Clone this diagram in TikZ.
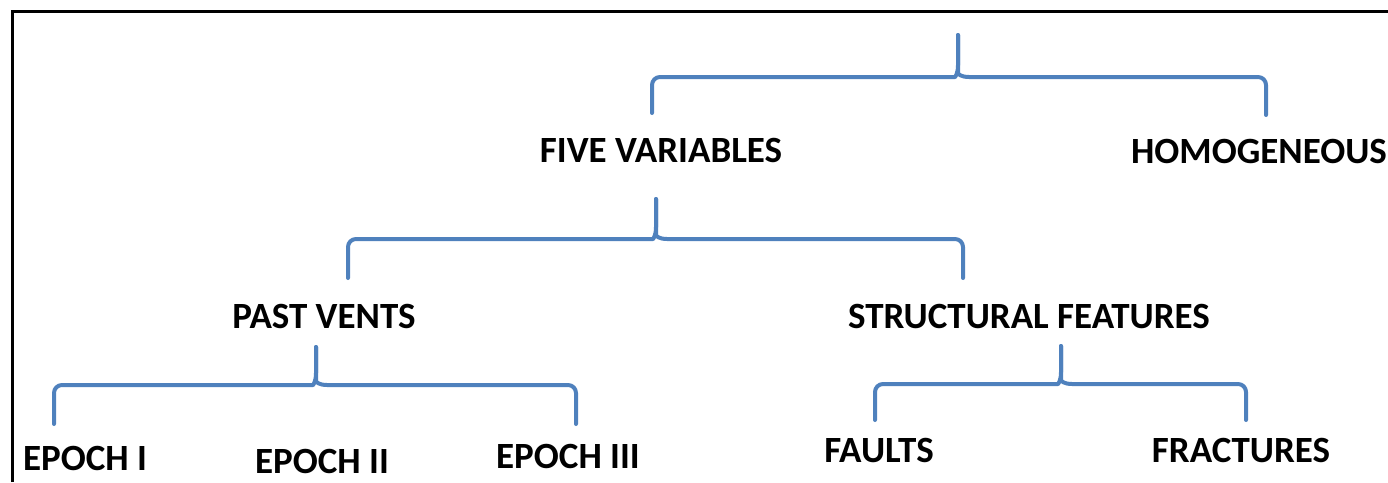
\documentclass[tikz,border=0pt]{standalone}
\usepackage{fontspec}
\setmainfont{Carlito}
\usetikzlibrary{calc}
\definecolor{braceblue}{HTML}{4F81BD}
\tikzset{
  lbl/.style={font=\bfseries\fontsize{37}{40}\selectfont, anchor=base, inner sep=0pt, text=black},
  br/.style={draw=braceblue, line width=4pt, line cap=round, line join=round},
  frameline/.style={draw=black, line width=3pt},
}
\newcommand\bracedraw[4]{% #1 left end, #2 bar centre, #3 tip, #4 right end
  \draw[br,rounded corners=8pt] (#1) |- ($(#2)+(-11,0)$) [sharp corners]
    .. controls ($(#2)+(-3,0)$) and ($(#2)+(0,-3)$) .. ($(#2)+(0,-12)$) -- (#3);
  \draw[br,rounded corners=8pt] (#3) -- ($(#2)+(0,-12)$) [sharp corners]
    .. controls ($(#2)+(0,-3)$) and ($(#2)+(3,0)$) .. ($(#2)+(11,0)$) [rounded corners=8pt] -| (#4);
}
\begin{document}
\begin{tikzpicture}[x=1pt,y=-1pt]
\useasboundingbox (0,0) rectangle (1388,482);
\draw[frameline] (12.5,482) -- (12.5,11) -- (1388,11);

\node[lbl] (five)   at (661,162)  {FIVE VARIABLES};
\node[lbl] (homo)   at (1259,163) {HOMOGENEOUS};
\node[lbl] (past)   at (324,328)  {PAST VENTS};
\node[lbl] (struct) at (1029,328) {STRUCTURAL FEATURES};
\node[lbl] (e1)     at (85,470)   {EPOCH I};
\node[lbl] (e2)     at (322,473)  {EPOCH II};
\node[lbl] (e3)     at (568,468)  {EPOCH III};
\node[lbl] (faults) at (879,462)  {FAULTS};
\node[lbl] (fract)  at (1241,462) {FRACTURES};

\coordinate (t0) at (958,35);   \coordinate (b0) at (958,77);
\coordinate (l0) at (652,113);  \coordinate (r0) at (1266,115);
\coordinate (t1) at (656,199);  \coordinate (b1) at (656,239);
\coordinate (l1) at (348,278);  \coordinate (r1) at (963,278);
\coordinate (t2) at (316,347);  \coordinate (b2) at (316,385);
\coordinate (l2) at (54,424);   \coordinate (r2) at (576,424);
\coordinate (t3) at (1061,346); \coordinate (b3) at (1061,384);
\coordinate (l3) at (875,420);  \coordinate (r3) at (1246,420);

\bracedraw{l0}{b0}{t0}{r0}
\bracedraw{l1}{b1}{t1}{r1}
\bracedraw{l2}{b2}{t2}{r2}
\bracedraw{l3}{b3}{t3}{r3}
\end{tikzpicture}
\end{document}
